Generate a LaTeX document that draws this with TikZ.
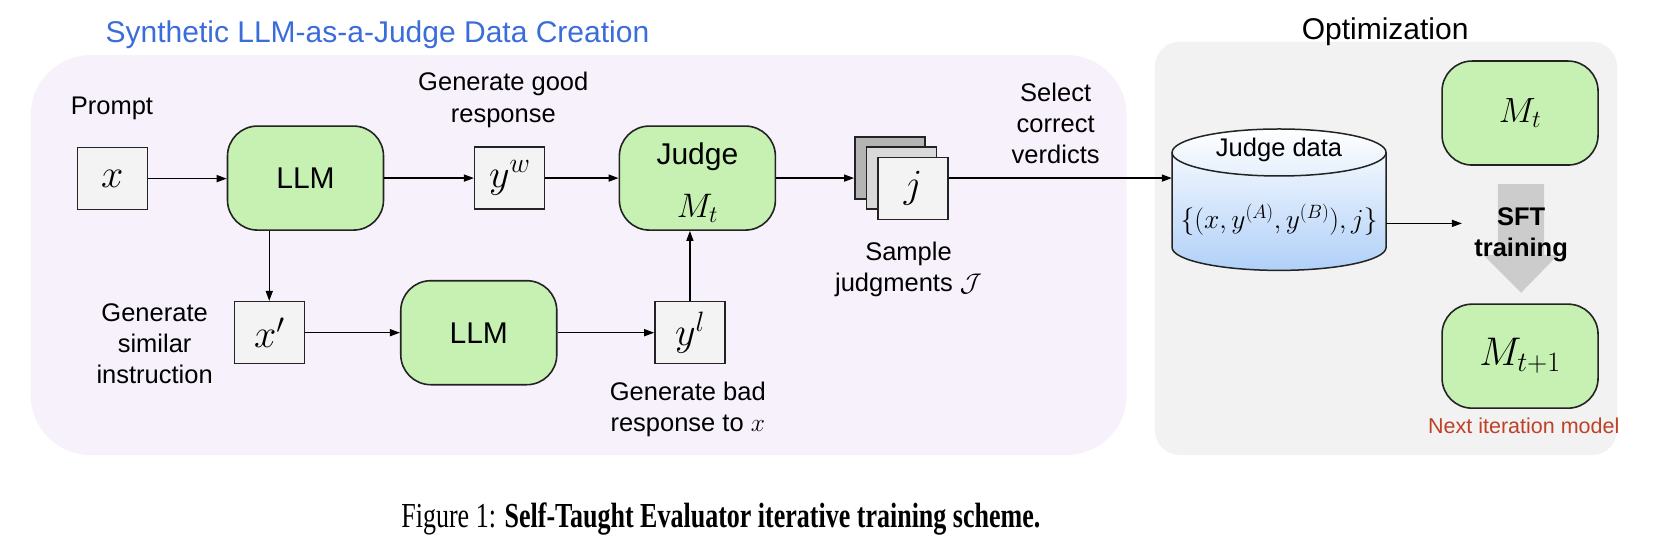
\RequirePackage{fix-cm}
\documentclass[tikz,border=0pt]{standalone}
\usepackage{fontspec}
\setmainfont{Liberation Sans}
\newfontfamily\capfont{Liberation Serif}
\usetikzlibrary{arrows.meta}
\definecolor{bgpurple}{RGB}{246,241,251}
\definecolor{bggray}{RGB}{242,242,242}
\definecolor{nodegreen}{RGB}{198,241,178}
\definecolor{boxgray}{RGB}{243,243,243}
\definecolor{edgedark}{RGB}{35,35,35}
\definecolor{titleblue}{RGB}{58,108,218}
\definecolor{nextred}{RGB}{190,65,40}
\definecolor{pagedark}{RGB}{180,180,180}
\definecolor{pagemid}{RGB}{217,217,217}
\definecolor{cylblue}{RGB}{176,208,248}
\definecolor{sftgray}{RGB}{204,204,204}
\tikzset{
 lbl/.style={font=\fontsize{25.5}{31}\selectfont, align=center, inner sep=0pt},
 ttl/.style={font=\fontsize{30}{36}\selectfont, inner sep=0pt, anchor=base},
 varbox/.style={draw=edgedark, line width=1.5pt, fill=boxgray, minimum width=70pt, minimum height=62pt, inner sep=0pt, font=\fontsize{40}{40}\selectfont},
 model/.style={draw=edgedark, line width=1.6pt, fill=nodegreen, rounded corners=30pt, minimum width=156pt, minimum height=104pt, inner sep=0pt, align=center, font=\fontsize{30}{46}\selectfont},
 page/.style={draw=edgedark, line width=1.5pt, minimum width=70pt, minimum height=62pt, inner sep=0pt},
 arr/.style={-{Triangle[length=10pt,width=7pt]}, line width=1.4pt, draw=black},
}
\begin{document}
\begin{tikzpicture}[x=1.06633pt, y=-1.06633pt]
\useasboundingbox (0,0) rectangle (1568,514);
% backgrounds
\fill[bgpurple, rounded corners=60pt] (28.8,51.6) rectangle (1056.6,426.7);
\fill[bggray, rounded corners=25pt] (1083,39.2) rectangle (1516.5,426.7);
% titles
\node[ttl, text=titleblue] (t1) at (354,39.4) {Synthetic LLM-as-a-Judge Data Creation};
\node[ttl] (t2) at (1299,37) {Optimization};
% main nodes
\node[varbox] (x) at (105.3,167.5) {$x$};
\node[model] (llm1) at (286.5,167) {LLM};
\node[varbox] (yw) at (478,167) {$y^w$};
\node[model] (judge) at (654,167) {};
\node[font=\fontsize{30}{36}\selectfont, inner sep=0pt, anchor=base] (judgeT) at (654,154.5) {Judge};
\node[font=\fontsize{34}{40}\selectfont, inner sep=0pt, anchor=base] (judgeM) at (654,204) {$M_t$};
\node[page, fill=pagedark] (pg3) at (834.5,157.6) {};
\node[page, fill=pagemid] (pg2) at (845.5,167) {};
\node[page, fill=boxgray, font=\fontsize{40}{40}\selectfont] (pg1) at (856.4,176.6) {$j$};
\node[varbox] (x2) at (252.5,312) {$x'$};
\node[model] (llm2) at (449,312) {LLM};
\node[varbox] (yl) at (647,312) {$y^l$};
% labels
\node[lbl, anchor=base] (prompt) at (105,107.2) {Prompt};
\node[lbl, font=\fontsize{25.5}{32}\selectfont] (ggr) at (472,94) {Generate good\\response};
\node[lbl] (scv) at (990,116) {Select\\correct\\verdicts};
\node[lbl] (sj) at (852,252.5) {Sample\\judgments $\mathcal{J}$};
\node[lbl] (gsi) at (145,322) {Generate\\similar\\instruction};
\node[lbl] (gbr) at (645,384) {Generate bad\\response to $x$};
% cylinder
\shade[top color=white, bottom color=cylblue] (1099.15,143) -- (1099.15,232) arc[start angle=180,end angle=360,x radius=107pt,y radius=23pt] -- (1299.85,143) arc[start angle=0,end angle=180,x radius=107pt,y radius=23.5pt] -- cycle;
\draw[line width=1.5pt, edgedark] (1099.15,143) -- (1099.15,232) arc[start angle=180,end angle=360,x radius=107pt,y radius=23pt] -- (1299.85,143);
\draw[line width=1.5pt, edgedark] (1199.5,143) ellipse[x radius=107pt, y radius=23.5pt];
\node[minimum width=214pt, minimum height=142pt, inner sep=0pt] (jd) at (1199.5,187.5) {};
\node[lbl] (jdl) at (1199.5,141) {Judge data};
\node[font=\fontsize{27.5}{28}\selectfont, inner sep=0pt] (jdf) at (1199.5,206) {$\{(x,y^{(A)},y^{(B)}),j\}$};
% optimization part
\fill[sftgray] (1404.6,172.6) -- (1448,172.6) -- (1448,239) -- (1461,239) -- (1426.5,274.5) -- (1391,239) -- (1404.6,239) -- cycle;
\node[lbl, font=\fontsize{25.5}{31}\selectfont\bfseries] (sft) at (1426.5,220.5) {SFT\\training};
\node[model, font=\fontsize{35}{40}\selectfont] (mt) at (1425.5,106) {$M_t$};
\node[model, font=\fontsize{40}{40}\selectfont] (mt1) at (1425.5,334) {$M_{t+1}$};
\node[font=\fontsize{21.5}{24}\selectfont, text=nextred, inner sep=0pt] (nim) at (1429,399) {Next iteration model};
\coordinate (sftin) at (1371,209.5);
% connectors
\draw[arr] (x) -- (x -| llm1.west);
\draw[arr] (llm1) -- (yw);
\draw[arr] (yw) -- (judge);
\draw[arr] (judge) -- (pg3.west |- judge);
\draw[arr] (pg1.east |- pg2) -- (jd.west |- pg2);
\draw[arr] (jd.east |- sftin) -- (sftin);
\draw[arr] (x2 |- llm1.south) -- (x2.north);
\draw[arr] (x2) -- (llm2);
\draw[arr] (llm2) -- (yl);
\draw[arr] (yl.north) -- (yl |- judge.south);
% caption
\node[font=\capfont\fontsize{26}{30}\selectfont, inner sep=0pt, anchor=base] (cap) at (676,494.3) {\scalebox{1}[1.35]{Figure 1: \textbf{Self-Taught Evaluator iterative training scheme.}}};
\end{tikzpicture}
\end{document}
